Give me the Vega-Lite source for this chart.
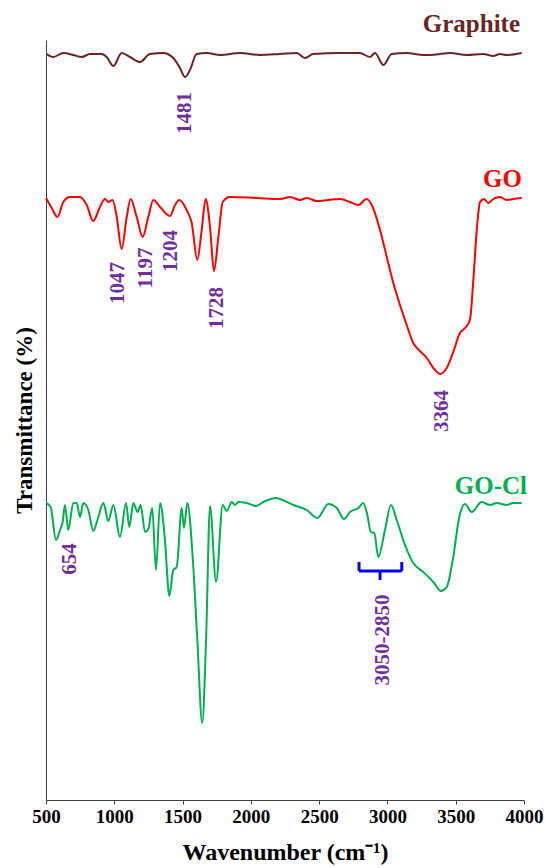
{
  "$schema": "https://vega.github.io/schema/vega-lite/v6.json",
  "width": 478,
  "height": 760,
  "autosize": {"type": "none"},
  "padding": {"left": 46, "top": 40, "right": 21, "bottom": 68},
  "background": "white",
  "config": {
    "view": {"stroke": null},
    "font": "Liberation Serif",
    "axis": {"labelFont": "Liberation Serif", "titleFont": "Liberation Serif"}
  },
  "datasets": {
    "spectra": [
      {"s":"Graphite","wn":505,"t":746},{"s":"Graphite","wn":553,"t":743},{"s":"Graphite","wn":627,"t":747},{"s":"Graphite","wn":700,"t":745},{"s":"Graphite","wn":761,"t":743},{"s":"Graphite","wn":822,"t":746},{"s":"Graphite","wn":908,"t":746},{"s":"Graphite","wn":944,"t":743},{"s":"Graphite","wn":993,"t":734},{"s":"Graphite","wn":1054,"t":747},{"s":"Graphite","wn":1115,"t":743},{"s":"Graphite","wn":1188,"t":738},{"s":"Graphite","wn":1261,"t":746},{"s":"Graphite","wn":1359,"t":747},{"s":"Graphite","wn":1432,"t":742},{"s":"Graphite","wn":1481,"t":732},{"s":"Graphite","wn":1518,"t":723},{"s":"Graphite","wn":1554,"t":730},{"s":"Graphite","wn":1603,"t":746},{"s":"Graphite","wn":1677,"t":747},{"s":"Graphite","wn":1774,"t":745},{"s":"Graphite","wn":1920,"t":747},{"s":"Graphite","wn":2067,"t":745},{"s":"Graphite","wn":2213,"t":746},{"s":"Graphite","wn":2336,"t":747},{"s":"Graphite","wn":2396,"t":742},{"s":"Graphite","wn":2457,"t":746},{"s":"Graphite","wn":2653,"t":747},{"s":"Graphite","wn":2799,"t":747},{"s":"Graphite","wn":2872,"t":743},{"s":"Graphite","wn":2909,"t":747},{"s":"Graphite","wn":2970,"t":735},{"s":"Graphite","wn":3031,"t":746},{"s":"Graphite","wn":3141,"t":747},{"s":"Graphite","wn":3263,"t":745},{"s":"Graphite","wn":3385,"t":746},{"s":"Graphite","wn":3458,"t":747},{"s":"Graphite","wn":3580,"t":745},{"s":"Graphite","wn":3702,"t":746},{"s":"Graphite","wn":3775,"t":744},{"s":"Graphite","wn":3824,"t":746},{"s":"Graphite","wn":3873,"t":745},{"s":"Graphite","wn":3983,"t":747},
      {"s":"GO","wn":500,"t":602},{"s":"GO","wn":542,"t":592},{"s":"GO","wn":583,"t":583},{"s":"GO","wn":627,"t":598},{"s":"GO","wn":676,"t":603},{"s":"GO","wn":749,"t":603},{"s":"GO","wn":798,"t":595},{"s":"GO","wn":846,"t":579},{"s":"GO","wn":895,"t":593},{"s":"GO","wn":932,"t":601},{"s":"GO","wn":956,"t":598},{"s":"GO","wn":988,"t":600},{"s":"GO","wn":1018,"t":583},{"s":"GO","wn":1054,"t":551},{"s":"GO","wn":1091,"t":583},{"s":"GO","wn":1120,"t":601},{"s":"GO","wn":1164,"t":583},{"s":"GO","wn":1208,"t":563},{"s":"GO","wn":1249,"t":583},{"s":"GO","wn":1286,"t":600},{"s":"GO","wn":1335,"t":593},{"s":"GO","wn":1408,"t":584},{"s":"GO","wn":1445,"t":595},{"s":"GO","wn":1476,"t":600},{"s":"GO","wn":1530,"t":590},{"s":"GO","wn":1567,"t":577},{"s":"GO","wn":1608,"t":540},{"s":"GO","wn":1640,"t":570},{"s":"GO","wn":1669,"t":601},{"s":"GO","wn":1701,"t":573},{"s":"GO","wn":1730,"t":529},{"s":"GO","wn":1762,"t":563},{"s":"GO","wn":1794,"t":598},{"s":"GO","wn":1847,"t":603},{"s":"GO","wn":2043,"t":602},{"s":"GO","wn":2213,"t":601},{"s":"GO","wn":2287,"t":603},{"s":"GO","wn":2360,"t":600},{"s":"GO","wn":2409,"t":602},{"s":"GO","wn":2482,"t":599},{"s":"GO","wn":2653,"t":601},{"s":"GO","wn":2726,"t":598},{"s":"GO","wn":2787,"t":595},{"s":"GO","wn":2848,"t":601},{"s":"GO","wn":2885,"t":595},{"s":"GO","wn":2946,"t":570},{"s":"GO","wn":2995,"t":543},{"s":"GO","wn":3043,"t":517},{"s":"GO","wn":3092,"t":495},{"s":"GO","wn":3141,"t":475},{"s":"GO","wn":3189,"t":457},{"s":"GO","wn":3238,"t":449},{"s":"GO","wn":3288,"t":442},{"s":"GO","wn":3336,"t":432},{"s":"GO","wn":3385,"t":426},{"s":"GO","wn":3434,"t":432},{"s":"GO","wn":3482,"t":448},{"s":"GO","wn":3531,"t":467},{"s":"GO","wn":3568,"t":472},{"s":"GO","wn":3604,"t":480},{"s":"GO","wn":3629,"t":520},{"s":"GO","wn":3654,"t":570},{"s":"GO","wn":3678,"t":598},{"s":"GO","wn":3707,"t":601},{"s":"GO","wn":3739,"t":597},{"s":"GO","wn":3775,"t":601},{"s":"GO","wn":3824,"t":603},{"s":"GO","wn":3873,"t":600},{"s":"GO","wn":3922,"t":601},{"s":"GO","wn":3983,"t":602},
      {"s":"GO-Cl","wn":500,"t":297},{"s":"GO-Cl","wn":534,"t":293},{"s":"GO-Cl","wn":573,"t":260},{"s":"GO-Cl","wn":603,"t":270},{"s":"GO-Cl","wn":622,"t":278},{"s":"GO-Cl","wn":639,"t":295},{"s":"GO-Cl","wn":663,"t":270},{"s":"GO-Cl","wn":700,"t":297},{"s":"GO-Cl","wn":725,"t":297},{"s":"GO-Cl","wn":749,"t":283},{"s":"GO-Cl","wn":773,"t":297},{"s":"GO-Cl","wn":810,"t":290},{"s":"GO-Cl","wn":846,"t":269},{"s":"GO-Cl","wn":883,"t":283},{"s":"GO-Cl","wn":920,"t":297},{"s":"GO-Cl","wn":956,"t":279},{"s":"GO-Cl","wn":993,"t":295},{"s":"GO-Cl","wn":1042,"t":263},{"s":"GO-Cl","wn":1086,"t":297},{"s":"GO-Cl","wn":1110,"t":273},{"s":"GO-Cl","wn":1139,"t":297},{"s":"GO-Cl","wn":1171,"t":288},{"s":"GO-Cl","wn":1193,"t":295},{"s":"GO-Cl","wn":1225,"t":268},{"s":"GO-Cl","wn":1249,"t":271},{"s":"GO-Cl","wn":1278,"t":292},{"s":"GO-Cl","wn":1305,"t":230},{"s":"GO-Cl","wn":1335,"t":297},{"s":"GO-Cl","wn":1371,"t":260},{"s":"GO-Cl","wn":1403,"t":204},{"s":"GO-Cl","wn":1432,"t":230},{"s":"GO-Cl","wn":1457,"t":233},{"s":"GO-Cl","wn":1494,"t":292},{"s":"GO-Cl","wn":1510,"t":272},{"s":"GO-Cl","wn":1535,"t":297},{"s":"GO-Cl","wn":1574,"t":243},{"s":"GO-Cl","wn":1608,"t":160},{"s":"GO-Cl","wn":1644,"t":77},{"s":"GO-Cl","wn":1672,"t":160},{"s":"GO-Cl","wn":1701,"t":294},{"s":"GO-Cl","wn":1745,"t":218},{"s":"GO-Cl","wn":1794,"t":295},{"s":"GO-Cl","wn":1823,"t":289},{"s":"GO-Cl","wn":1860,"t":298},{"s":"GO-Cl","wn":1884,"t":295},{"s":"GO-Cl","wn":1908,"t":298},{"s":"GO-Cl","wn":1969,"t":297},{"s":"GO-Cl","wn":2038,"t":294},{"s":"GO-Cl","wn":2091,"t":298},{"s":"GO-Cl","wn":2189,"t":302},{"s":"GO-Cl","wn":2213,"t":301},{"s":"GO-Cl","wn":2311,"t":295},{"s":"GO-Cl","wn":2409,"t":290},{"s":"GO-Cl","wn":2487,"t":282},{"s":"GO-Cl","wn":2567,"t":296},{"s":"GO-Cl","wn":2629,"t":292},{"s":"GO-Cl","wn":2682,"t":281},{"s":"GO-Cl","wn":2726,"t":288},{"s":"GO-Cl","wn":2787,"t":292},{"s":"GO-Cl","wn":2823,"t":297},{"s":"GO-Cl","wn":2853,"t":285},{"s":"GO-Cl","wn":2878,"t":268},{"s":"GO-Cl","wn":2904,"t":267},{"s":"GO-Cl","wn":2933,"t":243},{"s":"GO-Cl","wn":2982,"t":270},{"s":"GO-Cl","wn":3026,"t":295},{"s":"GO-Cl","wn":3068,"t":280},{"s":"GO-Cl","wn":3129,"t":255},{"s":"GO-Cl","wn":3189,"t":237},{"s":"GO-Cl","wn":3263,"t":228},{"s":"GO-Cl","wn":3336,"t":218},{"s":"GO-Cl","wn":3390,"t":209},{"s":"GO-Cl","wn":3434,"t":213},{"s":"GO-Cl","wn":3482,"t":243},{"s":"GO-Cl","wn":3526,"t":283},{"s":"GO-Cl","wn":3568,"t":296},{"s":"GO-Cl","wn":3617,"t":288},{"s":"GO-Cl","wn":3690,"t":298},{"s":"GO-Cl","wn":3751,"t":295},{"s":"GO-Cl","wn":3800,"t":297},{"s":"GO-Cl","wn":3873,"t":295},{"s":"GO-Cl","wn":3922,"t":297},{"s":"GO-Cl","wn":3983,"t":297}
    ],
    "names": [
      {"s":"Graphite","wn":3971,"t":768},
      {"s":"GO","wn":3985,"t":613},
      {"s":"GO-Cl","wn":4022,"t":306}
    ],
    "peaks": [
      {"label":"1481","wn":1518,"t":687},
      {"label":"1047","wn":1030,"t":517},
      {"label":"1197","wn":1232,"t":532},
      {"label":"1204","wn":1413,"t":549},
      {"label":"1728","wn":1750,"t":492},
      {"label":"3364","wn":3402,"t":389},
      {"label":"654","wn":676,"t":241},
      {"label":"3050-2850","wn":2968,"t":160}
    ],
    "bracket": [
      {"wn":2792,"wn2":3105,"t":229,"t2":229},
      {"wn":2792,"wn2":2792,"t":229,"t2":238},
      {"wn":3105,"wn2":3105,"t":229,"t2":238},
      {"wn":2946,"wn2":2946,"t":229,"t2":220}
    ]
  },
  "layer": [
    {
      "data": {"name": "spectra"},
      "mark": {"type": "line", "interpolate": "monotone", "strokeWidth": 2},
      "encoding": {
        "x": {
          "field": "wn", "type": "quantitative",
          "scale": {"domain": [500, 4000], "nice": false, "zero": false},
          "axis": {
            "title": "Wavenumber (cm⁻¹)",
            "values": [500, 1000, 1500, 2000, 2500, 3000, 3500, 4000],
            "format": "d",
            "grid": false,
            "labelFlush": false,
            "labelOverlap": false,
            "labelFontSize": 19,
            "labelFontWeight": "bold",
            "labelColor": "black",
            "labelPadding": 3,
            "tickSize": 4,
            "tickColor": "#404040",
            "domainColor": "#404040",
            "titleFontSize": 24,
            "titleFontWeight": "bold",
            "titleColor": "black",
            "titlePadding": 14
          }
        },
        "y": {
          "field": "t", "type": "quantitative",
          "scale": {"domain": [0, 760], "nice": false, "zero": false},
          "axis": {
            "title": "Transmittance (%)",
            "labels": false,
            "ticks": false,
            "grid": false,
            "domainColor": "#404040",
            "titleFontSize": 23,
            "titleFontWeight": "bold",
            "titleColor": "black",
            "titlePadding": 10
          }
        },
        "color": {
          "field": "s", "type": "nominal",
          "scale": {"domain": ["Graphite", "GO", "GO-Cl"], "range": ["#6B2525", "#FF0000", "#00B050"]},
          "legend": null
        }
      }
    },
    {
      "data": {"name": "bracket"},
      "mark": {"type": "rule", "color": "#0000FF", "strokeWidth": 3},
      "encoding": {
        "x": {"field": "wn", "type": "quantitative"},
        "x2": {"field": "wn2"},
        "y": {"field": "t", "type": "quantitative"},
        "y2": {"field": "t2"}
      }
    },
    {
      "data": {"name": "peaks"},
      "mark": {"type": "text", "angle": 270, "align": "center", "baseline": "middle", "font": "Liberation Serif", "fontSize": 21, "fontWeight": "bold", "color": "#7030A0"},
      "encoding": {
        "x": {"field": "wn", "type": "quantitative"},
        "y": {"field": "t", "type": "quantitative"},
        "text": {"field": "label"}
      }
    },
    {
      "data": {"name": "names"},
      "mark": {"type": "text", "align": "right", "baseline": "alphabetic", "font": "Liberation Serif", "fontSize": 25, "fontWeight": "bold"},
      "encoding": {
        "x": {"field": "wn", "type": "quantitative"},
        "y": {"field": "t", "type": "quantitative"},
        "text": {"field": "s"},
        "color": {
          "field": "s", "type": "nominal",
          "scale": {"domain": ["Graphite", "GO", "GO-Cl"], "range": ["#6B2525", "#FF0000", "#00B050"]},
          "legend": null
        }
      }
    }
  ]
}
